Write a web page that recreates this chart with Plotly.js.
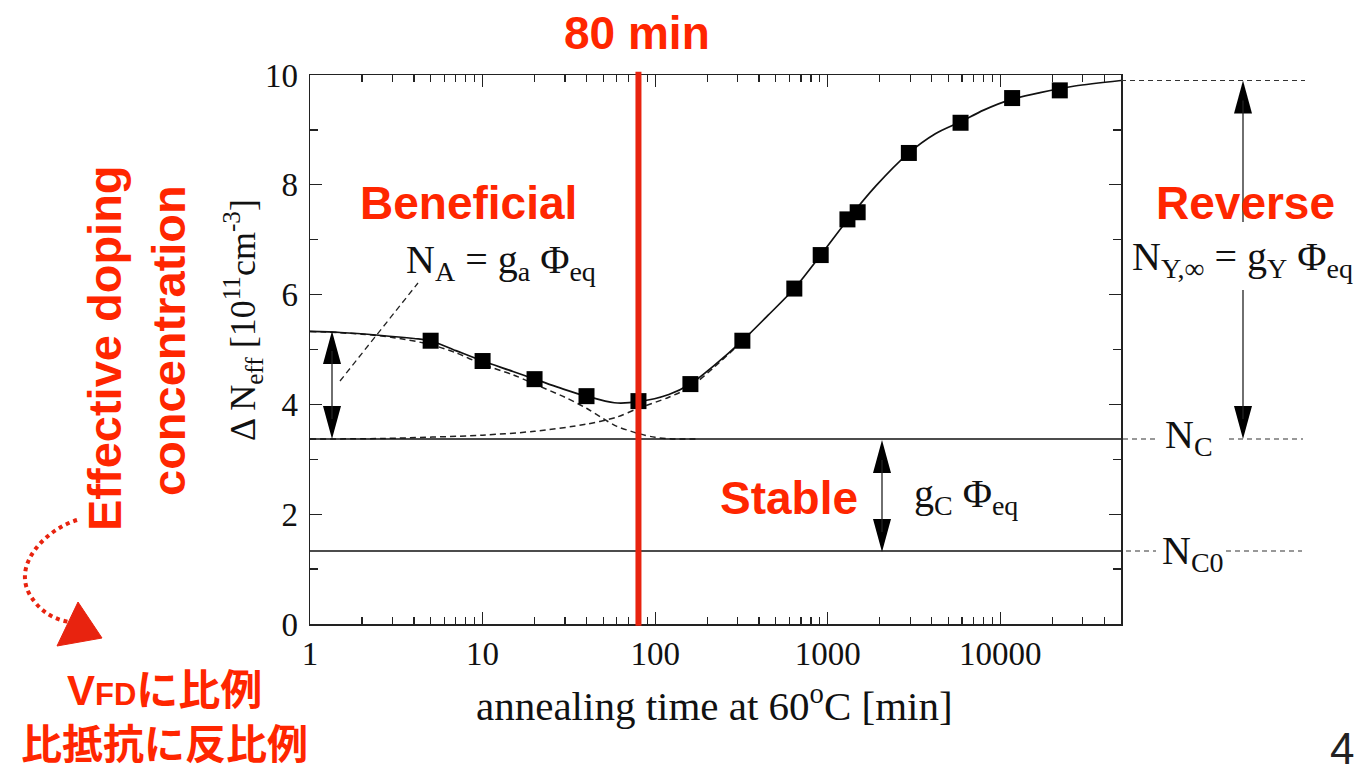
<!DOCTYPE html>
<html>
<head>
<meta charset="utf-8">
<script src="https://cdn.plot.ly/plotly-3.0.1.min.js"></script>
<style>html,body{margin:0;padding:0;background:#fff;}#chart{width:1369px;height:772px;}</style>
</head>
<body>
<div id="chart"></div>
<script>
// ---- data ----
const dataTime = [5, 10, 20, 40, 80, 160, 320, 640, 910, 1300, 1490, 2950, 5880, 11700, 22100];
const dataNeff = [5.16, 4.79, 4.46, 4.15, 4.06, 4.37, 5.16, 6.11, 6.72, 7.37, 7.50, 8.58, 9.13, 9.58, 9.72];

const fitTime = [1, 1.5, 2.5, 4, 5, 7, 10, 15, 20, 30, 40, 58, 80, 120, 160, 220, 320, 450, 640, 900, 1300, 1900, 2900, 4200, 5900, 8000, 11700, 17000, 27000, 50000];
const fitNeff = [5.33, 5.31, 5.26, 5.20, 5.16, 4.98, 4.79, 4.60, 4.46, 4.27, 4.15, 4.03, 4.05, 4.18, 4.37, 4.71, 5.16, 5.62, 6.11, 6.70, 7.36, 7.98, 8.56, 8.93, 9.15, 9.36, 9.56, 9.68, 9.80, 9.90];

const benTime = [1, 2, 3, 5, 7, 10, 15, 20, 30, 40, 50, 60, 80, 100, 130, 180];
const benNeff = [5.33, 5.28, 5.22, 5.09, 4.94, 4.73, 4.54, 4.37, 4.13, 3.93, 3.74, 3.60, 3.47, 3.40, 3.37, 3.37];

const revTime = [1, 2.7, 10, 20, 40, 60, 80, 120, 160, 220, 320];
const revNeff = [3.37, 3.38, 3.44, 3.51, 3.64, 3.77, 3.93, 4.13, 4.32, 4.68, 5.15];

const ncLevel = 3.37;     // N_C
const nc0Level = 1.33;    // N_C0
const nyInfLevel = 9.9;   // N_Y,inf
const markTime = 80;      // 80 min

const xTickVals = [1, 10, 100, 1000, 10000];
const xTickText = ['1', '10', '100', '1000', '10000'];
const xMinorVals = [2,3,4,5,6,7,8,9,20,30,40,50,60,70,80,90,200,300,400,500,600,700,800,900,2000,3000,4000,5000,6000,7000,8000,9000,20000,30000,40000];
const yTickVals = [0, 2, 4, 6, 8, 10];

// ---- layout helpers (pixel -> paper) ----
const L = 310, R = 1121, T = 75, B = 624;
const P = x => (x - L) / (R - L);
const Q = y => (B - y) / (B - T);
const RED = '#ff2600';
const SERIF = 'Liberation Serif, Times New Roman, serif';
const SANS = 'Liberation Sans, Noto Sans CJK JP, sans-serif';

function tri(pts) {
  return 'M ' + pts.map(p => P(p[0]) + ',' + Q(p[1])).join(' L ') + ' Z';
}
function vArrow(x, yTop, yBot, headTop, headBot) {
  const s = [];
  const hl = 33, hw = 9;
  if (headTop) s.push({type:'path', xref:'paper', yref:'paper', path: tri([[x,yTop],[x-hw,yTop+hl],[x+hw,yTop+hl]]), fillcolor:'#000', line:{width:0}});
  if (headBot) s.push({type:'path', xref:'paper', yref:'paper', path: tri([[x,yBot],[x-hw,yBot-hl],[x+hw,yBot-hl]]), fillcolor:'#000', line:{width:0}});
  s.push({type:'line', xref:'paper', yref:'paper', x0:P(x), x1:P(x), y0:Q(yTop + (headTop?20:0)), y1:Q(yBot - (headBot?20:0)), line:{color:'#222', width:1.3}});
  return s;
}
function hDash(x0, x1, yv) {
  return {type:'line', xref:'paper', yref:'y', x0:P(x0), x1:P(x1), y0:yv, y1:yv, line:{color:'#333', width:1.2, dash:'5px,4px'}};
}

const traces = [
  {x: benTime, y: benNeff, mode:'lines', line:{color:'#222', width:1.5, dash:'6px,4px', shape:'spline', smoothing:0.8}, hoverinfo:'skip'},
  {x: revTime, y: revNeff, mode:'lines', line:{color:'#222', width:1.5, dash:'6px,4px', shape:'spline', smoothing:0.8}, hoverinfo:'skip'},
  {x: fitTime, y: fitNeff, mode:'lines', line:{color:'#111', width:1.7, shape:'spline', smoothing:0.8}},
  {x: dataTime, y: dataNeff, mode:'markers', marker:{symbol:'square', size:16, color:'#000'}}
];

let shapes = [
  {type:'line', xref:'paper', yref:'y', x0:0, x1:1, y0:ncLevel, y1:ncLevel, line:{color:'#111', width:1.5}},
  {type:'line', xref:'paper', yref:'y', x0:0, x1:1, y0:nc0Level, y1:nc0Level, line:{color:'#111', width:1.5}},
  hDash(1121, 1305, nyInfLevel),
  hDash(1123, 1158, ncLevel), hDash(1229, 1303, ncLevel),
  hDash(1126, 1156, nc0Level), hDash(1226, 1302, nc0Level),
  {type:'line', xref:'paper', yref:'paper', x0:P(340), y0:Q(381), x1:P(418), y1:Q(283), line:{color:'#222', width:1.3, dash:'6px,4px'}},
  // red marker line at 80 min
  {type:'line', xref:'x', yref:'paper', x0:markTime, x1:markTime, y0:-0.003, y1:1.006, line:{color:'#e8230f', width:6}},
  // hand drawn red arrow
  {type:'path', xref:'paper', yref:'paper',
   path:'M '+P(77)+','+Q(520)+' C '+P(45)+','+Q(530)+' '+P(12)+','+Q(565)+' '+P(30)+','+Q(595)+' C '+P(40)+','+Q(612)+' '+P(55)+','+Q(620)+' '+P(70)+','+Q(622),
   line:{color:'#e8230f', width:4, dash:'dot'}},
  {type:'path', xref:'paper', yref:'paper', path: tri([[78,602],[57,646],[102,638]]), fillcolor:'#e8230f', line:{color:'#e8230f', width:1}}
];
shapes = shapes.concat(vArrow(332, 331, 439, true, true));
shapes = shapes.concat(vArrow(882, 440, 552, true, true));
shapes = shapes.concat(vArrow(1243, 80.5, 222, true, false));
shapes = shapes.concat(vArrow(1243, 290, 439, false, true));

function ann(text, x, y, size, opts) {
  return Object.assign({text:text, xref:'paper', yref:'paper', x:P(x), y:Q(y), showarrow:false,
    xanchor:'center', yanchor:'middle', font:{family:SERIF, size:size, color:'#111'}}, opts || {});
}
const redFont = s => ({family:SANS, size:s, color:RED, weight:'bold'});

const annotations = [
  ann('80 min', 637, 33, 46, {font:redFont(46)}),
  ann('Beneficial', 468, 203, 46, {font:redFont(46)}),
  ann('Reverse', 1245, 203, 46, {font:redFont(46)}),
  ann('Stable', 789, 498, 46, {font:redFont(46)}),
  ann('Effective doping', 104, 348, 47, {font:redFont(47), textangle:-90}),
  ann('concentration', 169, 341, 47, {font:redFont(47), textangle:-90}),
  ann('V<span style="font-size:31px">FD</span>に比例', 164, 690, 42, {font:redFont(42)}),
  ann('比抵抗に反比例', 164, 745, 41, {font:redFont(41)}),
  ann('4', 1342, 749, 44, {font:{family:SANS, size:44, color:'#222'}}),
  ann('annealing time at 60<sup>o</sup>C [min]', 714, 703, 41),
  ann('Δ N<sub>eff</sub> [10<sup>11</sup>cm<sup>-3</sup>]', 243, 320, 36, {textangle:-90}),
  ann('N<sub>A</sub> = g<sub>a</sub> Φ<sub>eq</sub>', 404, 262, 40, {xanchor:'left'}),
  ann('N<sub>Y,∞</sub> = g<sub>Y</sub> Φ<sub>eq</sub>', 1130, 259, 40, {xanchor:'left'}),
  ann('g<sub>C</sub> Φ<sub>eq</sub>', 912, 496, 40, {xanchor:'left'}),
  ann('N<sub>C</sub>', 1163, 437, 40, {xanchor:'left'}),
  ann('N<sub>C0</sub>', 1160, 553, 40, {xanchor:'left'})
];

const axisCommon = {showgrid:false, zeroline:false, showline:true, linecolor:'#222', linewidth:1.5, mirror:'ticks',
  ticks:'inside', tickcolor:'#222', tickwidth:1.3, ticklen:12, tickfont:{family:SERIF, size:33, color:'#111'}};

const layout = {
  width:1369, height:772, paper_bgcolor:'#fff', plot_bgcolor:'#fff', showlegend:false,
  margin:{l:L, r:1369-R, t:T, b:772-B, pad:0},
  xaxis: Object.assign({}, axisCommon, {type:'log', range:[0, Math.log10(50000)], tickmode:'array', tickvals:xTickVals, ticktext:xTickText,
    minor:{tickmode:'array', tickvals:xMinorVals, ticks:'inside', ticklen:7, tickcolor:'#222', tickwidth:1.2, showgrid:false}}),
  yaxis: Object.assign({}, axisCommon, {range:[0, 10], tickmode:'array', tickvals:yTickVals, ticklabelstandoff:4,
    minor:{dtick:1, ticks:'inside', ticklen:8, tickcolor:'#222', tickwidth:1.2, showgrid:false}}),
  shapes: shapes,
  annotations: annotations
};

Plotly.newPlot('chart', traces, layout, {displayModeBar:false, staticPlot:true});
</script>
</body>
</html>
